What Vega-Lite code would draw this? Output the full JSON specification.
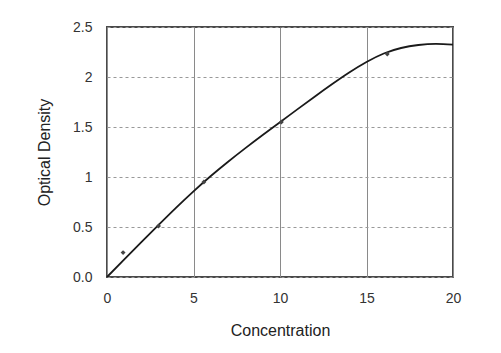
{
  "$schema": "https://vega.github.io/schema/vega-lite/v6.json",
  "autosize": "none",
  "width": 346,
  "height": 250,
  "padding": {"left": 107, "top": 27, "right": 48, "bottom": 76},
  "background": "white",
  "config": {
    "font": "Liberation Sans",
    "view": {"stroke": "#4a4a4a", "strokeWidth": 2},
    "axis": {"labelFont": "Liberation Sans", "titleFont": "Liberation Sans", "labelColor": "#333", "titleColor": "#222", "titleFontWeight": "normal", "labelFontSize": 14, "titleFontSize": 16, "ticks": false, "domain": false, "labelFlush": false, "labelOverlap": false}
  },
  "datasets": {
    "curve": [
      {"x": 0, "y": 0}, {"x": 1, "y": 0.176}, {"x": 2, "y": 0.351}, {"x": 3, "y": 0.524},
      {"x": 4, "y": 0.694}, {"x": 5, "y": 0.857}, {"x": 6, "y": 1.01}, {"x": 7, "y": 1.153},
      {"x": 8, "y": 1.289}, {"x": 9, "y": 1.42}, {"x": 10, "y": 1.548}, {"x": 11, "y": 1.676},
      {"x": 12, "y": 1.803}, {"x": 13, "y": 1.927}, {"x": 14, "y": 2.045}, {"x": 15, "y": 2.15},
      {"x": 16, "y": 2.235}, {"x": 17, "y": 2.29}, {"x": 18, "y": 2.32}, {"x": 19, "y": 2.332},
      {"x": 20, "y": 2.324}
    ],
    "points": [
      {"x": 0.93, "y": 0.244}, {"x": 2.98, "y": 0.51}, {"x": 5.6, "y": 0.95},
      {"x": 10.08, "y": 1.55}, {"x": 16.2, "y": 2.23}
    ]
  },
  "layer": [
    {
      "data": {"name": "curve"},
      "mark": {"type": "line", "color": "#1a1a1a", "strokeWidth": 1.8, "interpolate": "natural"},
      "encoding": {
        "x": {"field": "x", "type": "quantitative", "scale": {"domain": [0, 20], "nice": false},
          "axis": {"title": "Concentration", "values": [0, 5, 10, 15, 20], "grid": true, "gridColor": "#8a8a8a", "gridWidth": 1, "labelPadding": 14, "titlePadding": 17}},
        "y": {"field": "y", "type": "quantitative", "scale": {"domain": [0, 2.5], "nice": false},
          "axis": {"title": "Optical Density", "values": [0, 0.5, 1, 1.5, 2, 2.5], "labelExpr": "datum.value == 0 ? '0.0' : toString(datum.value)", "grid": true, "gridColor": "#999", "gridDash": [3, 3], "gridWidth": 1, "labelPadding": 15, "titlePadding": 20}}
      }
    },
    {
      "data": {"name": "points"},
      "mark": {"type": "point", "shape": "diamond", "filled": true, "color": "#444", "size": 24, "opacity": 1},
      "encoding": {
        "x": {"field": "x", "type": "quantitative"},
        "y": {"field": "y", "type": "quantitative"}
      }
    }
  ]
}
